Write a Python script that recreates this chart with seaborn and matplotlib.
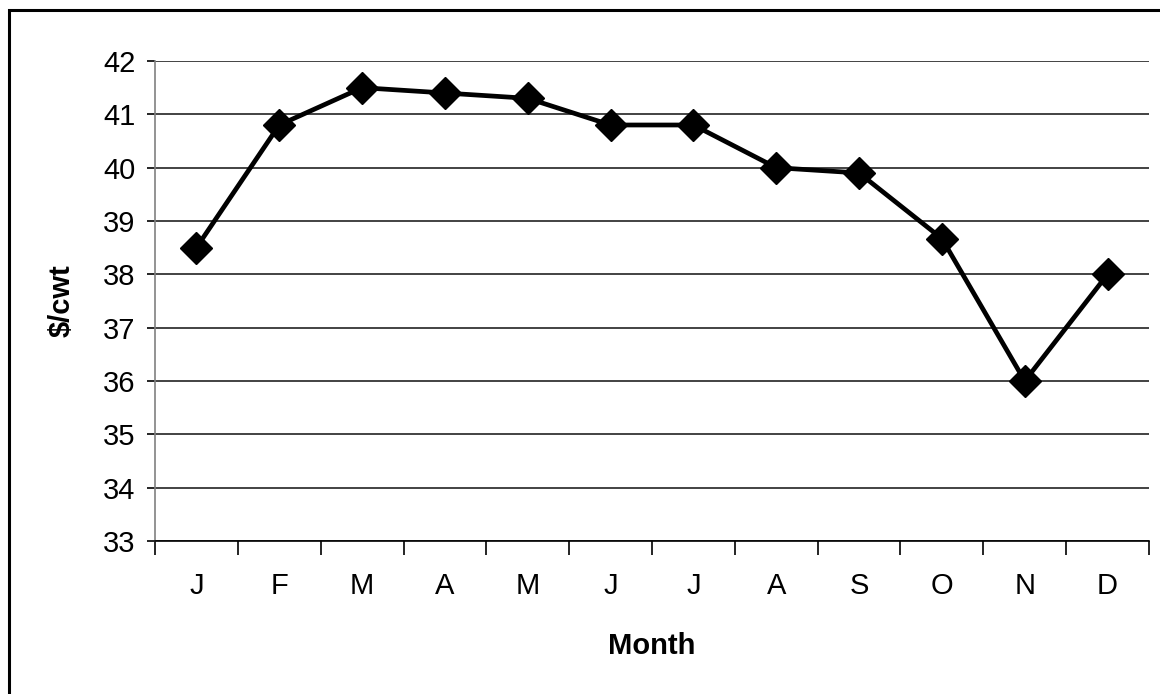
import numpy as np
import pandas as pd
import matplotlib
matplotlib.use("Agg")
import matplotlib.pyplot as plt
from matplotlib.patches import Rectangle
from matplotlib.ticker import FixedLocator
import seaborn as sns

# data
months = ["J", "F", "M", "A", "M", "J", "J", "A", "S", "O", "N", "D"]
price = [38.5, 40.8, 41.5, 41.4, 41.3, 40.8, 40.8, 40.0, 39.9, 38.67, 36.0, 38.0]
y_ticks = [33, 34, 35, 36, 37, 38, 39, 40, 41, 42]

df = pd.DataFrame({"pos": np.arange(len(months)), "price": price})

sns.set_theme(style="white")
plt.rcParams["font.family"] = ["Liberation Sans", "DejaVu Sans"]
plt.rcParams["text.color"] = "black"
plt.rcParams["xtick.color"] = "black"
plt.rcParams["ytick.color"] = "black"
plt.rcParams["axes.labelcolor"] = "black"

fig = plt.figure(figsize=(11.6, 6.94), dpi=100)
ax = fig.add_axes([155 / 1160, 1 - 541 / 694, 994 / 1160, 480 / 694])

sns.lineplot(data=df, x="pos", y="price", ax=ax, color="black", linewidth=3.4,
             marker="D", markersize=16, markeredgecolor="black", markeredgewidth=1)

ax.set_xlim(-0.5, len(months) - 0.5)
ax.set_ylim(33, 42)
ax.set_yticks(y_ticks)
ax.set_yticklabels([str(t) for t in y_ticks], fontsize=21)
ax.set_xticks(df["pos"])
ax.set_xticklabels(months, fontsize=21)
ax.xaxis.set_minor_locator(FixedLocator(np.arange(-0.5, len(months), 1.0)))
ax.tick_params(axis="x", which="major", length=0, pad=22)
ax.tick_params(axis="x", which="minor", length=10, width=1.2, color="black", direction="out", bottom=True)
ax.tick_params(axis="y", which="major", length=6, width=1.2, color="black", direction="out", left=True, pad=8)

ax.yaxis.grid(True, color="#222222", linewidth=1.2)
ax.xaxis.grid(False)
ax.set_axisbelow(True)

for side in ["top", "right"]:
    ax.spines[side].set_visible(False)
ax.spines["left"].set_color("#808080")
ax.spines["left"].set_linewidth(1.2)
ax.spines["bottom"].set_color("black")
ax.spines["bottom"].set_linewidth(1.2)

ax.set_xlabel("Month", fontsize=21, fontweight="bold")
ax.set_ylabel("$/cwt", fontsize=21, fontweight="bold")
ax.xaxis.set_label_coords(0.5, -0.19)
ax.yaxis.set_label_coords(-0.08, 0.5)

# outer chart frame (right and bottom edges fall outside the image)
fig.add_artist(Rectangle((9 / 1160, -0.1), 1.2, 1.1 - 10 / 694, fill=False,
                         edgecolor="black", linewidth=2.2, transform=fig.transFigure))

fig.savefig("out.png", dpi=100, facecolor="white")
